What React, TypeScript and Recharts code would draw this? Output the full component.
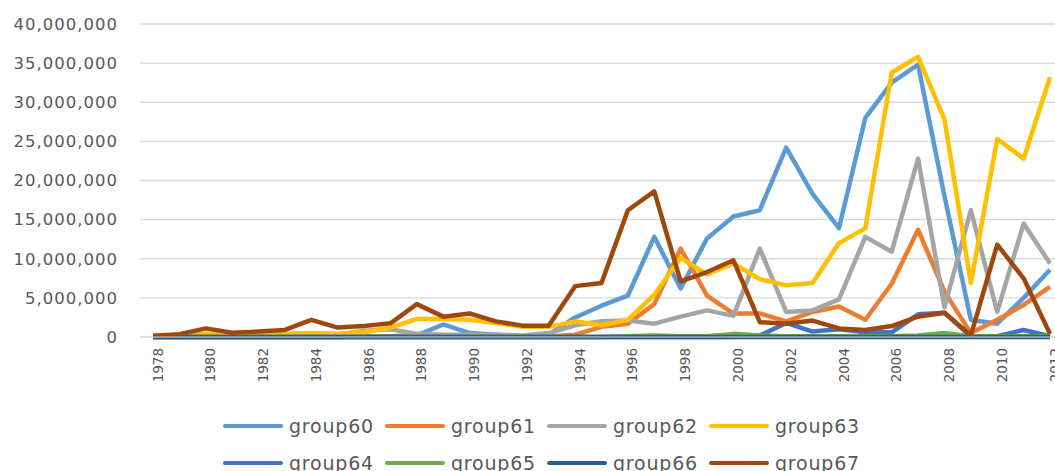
import { LineChart, Line, XAxis, YAxis, CartesianGrid, Legend } from "recharts";

const years = [
  "1978", "1979", "1980", "1981", "1982", "1983", "1984", "1985", "1986", "1987",
  "1988", "1989", "1990", "1991", "1992", "1993", "1994", "1995", "1996", "1997",
  "1998", "1999", "2000", "2001", "2002", "2003", "2004", "2005", "2006", "2007",
  "2008", "2009", "2010", "2011", "2012",
];

const group60 = [
  0, 0, 0, 0, 0, 0, 0, 0, 100000, 100000,
  200000, 1600000, 500000, 300000, 100000, 300000, 2500000, 4000000, 5300000, 12800000,
  6200000, 12600000, 15400000, 16200000, 24200000, 18300000, 13900000, 28000000, 32500000, 34800000,
  18000000, 2200000, 1700000, 5000000, 8600000,
];
const group61 = [
  0, 0, 0, 0, 0, 0, 0, 0, 50000, 100000,
  150000, 150000, 100000, 100000, 50000, 50000, 300000, 1300000, 1700000, 4200000,
  11300000, 5300000, 3000000, 3000000, 2000000, 3200000, 3900000, 2200000, 6800000, 13700000,
  5800000, 500000, 2200000, 4100000, 6400000,
];
const group62 = [
  100000, 100000, 100000, 100000, 100000, 100000, 100000, 300000, 800000, 1000000,
  400000, 300000, 300000, 300000, 200000, 500000, 1500000, 2000000, 2100000, 1700000,
  2600000, 3400000, 2700000, 11300000, 3200000, 3400000, 4800000, 12800000, 10900000, 22800000,
  3800000, 16200000, 3200000, 14500000, 9400000,
];
const group63 = [
  100000, 200000, 400000, 300000, 300000, 400000, 500000, 400000, 600000, 1200000,
  2300000, 2300000, 2200000, 1800000, 1300000, 1300000, 2000000, 1500000, 2200000, 5400000,
  10100000, 8000000, 9400000, 7400000, 6600000, 6900000, 12000000, 13900000, 33800000, 35800000,
  27800000, 6900000, 25300000, 22800000, 33200000,
];
const group64 = [
  0, 0, 0, 0, 0, 0, 0, 0, 0, 0,
  0, 0, 0, 0, 0, 0, 0, 0, 0, 0,
  0, 0, 0, 200000, 1800000, 700000, 1000000, 600000, 600000, 2900000,
  3100000, 100000, 100000, 900000, 100000,
];
const group65 = [
  0, 0, 0, 0, 0, 0, 0, 0, 0, 0,
  0, 0, 0, 0, 0, 0, 0, 0, 100000, 200000,
  100000, 100000, 400000, 200000, 100000, 100000, 100000, 100000, 100000, 200000,
  500000, 100000, 100000, 100000, 100000,
];
const group66 = [
  0, 0, 0, 0, 0, 0, 0, 0, 0, 0,
  0, 0, 0, 0, 0, 0, 0, 0, 0, 0,
  0, 0, 0, 0, 0, 0, 0, 0, 0, 0,
  0, 0, 0, 0, 0,
];
const group67 = [
  150000, 350000, 1100000, 550000, 700000, 900000, 2200000, 1200000, 1400000, 1750000,
  4200000, 2600000, 3000000, 2000000, 1450000, 1450000, 6500000, 6900000, 16200000, 18600000,
  7100000, 8300000, 9800000, 1900000, 1700000, 2100000, 1100000, 900000, 1400000, 2600000,
  3100000, 200000, 11800000, 7500000, 400000,
];

const yTicks = [0, 5000000, 10000000, 15000000, 20000000, 25000000, 30000000, 35000000, 40000000];

const seriesList = [
  { key: "group60", color: "#5B9BD5", values: group60 },
  { key: "group61", color: "#ED7D31", values: group61 },
  { key: "group62", color: "#A5A5A5", values: group62 },
  { key: "group63", color: "#FFC000", values: group63 },
  { key: "group64", color: "#4472C4", values: group64 },
  { key: "group65", color: "#70AD47", values: group65 },
  { key: "group66", color: "#255E91", values: group66 },
  { key: "group67", color: "#9E480E", values: group67 },
];

const data = years.map((year, i) => {
  const row: Record<string, string | number> = { year };
  seriesList.forEach((s) => {
    row[s.key] = s.values[i];
  });
  return row;
});

const LegendBox = () => (
  <div
    style={{
      height: 89,
      boxSizing: "border-box",
      paddingTop: 34,
      paddingLeft: 223,
      display: "flex",
      flexWrap: "wrap",
      rowGap: 17,
      width: 223 + 4 * 162,
    }}
  >
    {seriesList.map((s) => (
      <div key={s.key} style={{ width: 162, height: 20, display: "flex", alignItems: "center" }}>
        <span style={{ width: 60, height: 4, borderRadius: 2, background: s.color, marginRight: 6 }} />
        <span
          style={{
            fontFamily: "DejaVu Sans",
            fontSize: 19,
            letterSpacing: 0.8,
            color: "#595959",
            lineHeight: "20px",
          }}
        >
          {s.key}
        </span>
      </div>
    ))}
  </div>
);

export default function App() {
  return (
    <div style={{ position: "fixed", left: 0, top: 0, width: 1055, height: 471, overflow: "hidden", background: "#fff" }}>
      <LineChart width={1075} height={471} data={data} margin={{ top: 24, right: 12, left: 0, bottom: 0 }}>
        <CartesianGrid vertical={false} stroke="#d9d9d9" strokeWidth={1.3} />
        <XAxis
          dataKey="year"
          interval={1}
          tick={{
            angle: -90,
            textAnchor: "end",
            verticalAnchor: "middle",
            fill: "#595959",
            fontSize: 13.5,
            fontFamily: "DejaVu Sans",
          }}
          tickLine={false}
          tickSize={0}
          tickMargin={11}
          height={45}
          axisLine={{ stroke: "#d9d9d9" }}
          padding={{ left: 13, right: 13 }}
        />
        <YAxis
          width={140}
          domain={[0, 40000000]}
          ticks={yTicks}
          tickFormatter={(v: number) => v.toLocaleString("en-US")}
          axisLine={false}
          tickLine={false}
          tickSize={0}
          tickMargin={22}
          tick={{ fill: "#595959", fontSize: 16.5, fontFamily: "DejaVu Sans", letterSpacing: 1 }}
        />
        <Legend content={<LegendBox />} wrapperStyle={{ left: 0, bottom: 0, width: 1055, height: 89 }} />
        {seriesList.map((s) => (
          <Line
            key={s.key}
            type="linear"
            dataKey={s.key}
            stroke={s.color}
            strokeWidth={4.5}
            strokeLinejoin="round"
            dot={false}
            activeDot={false}
            isAnimationActive={false}
          />
        ))}
      </LineChart>
    </div>
  );
}
